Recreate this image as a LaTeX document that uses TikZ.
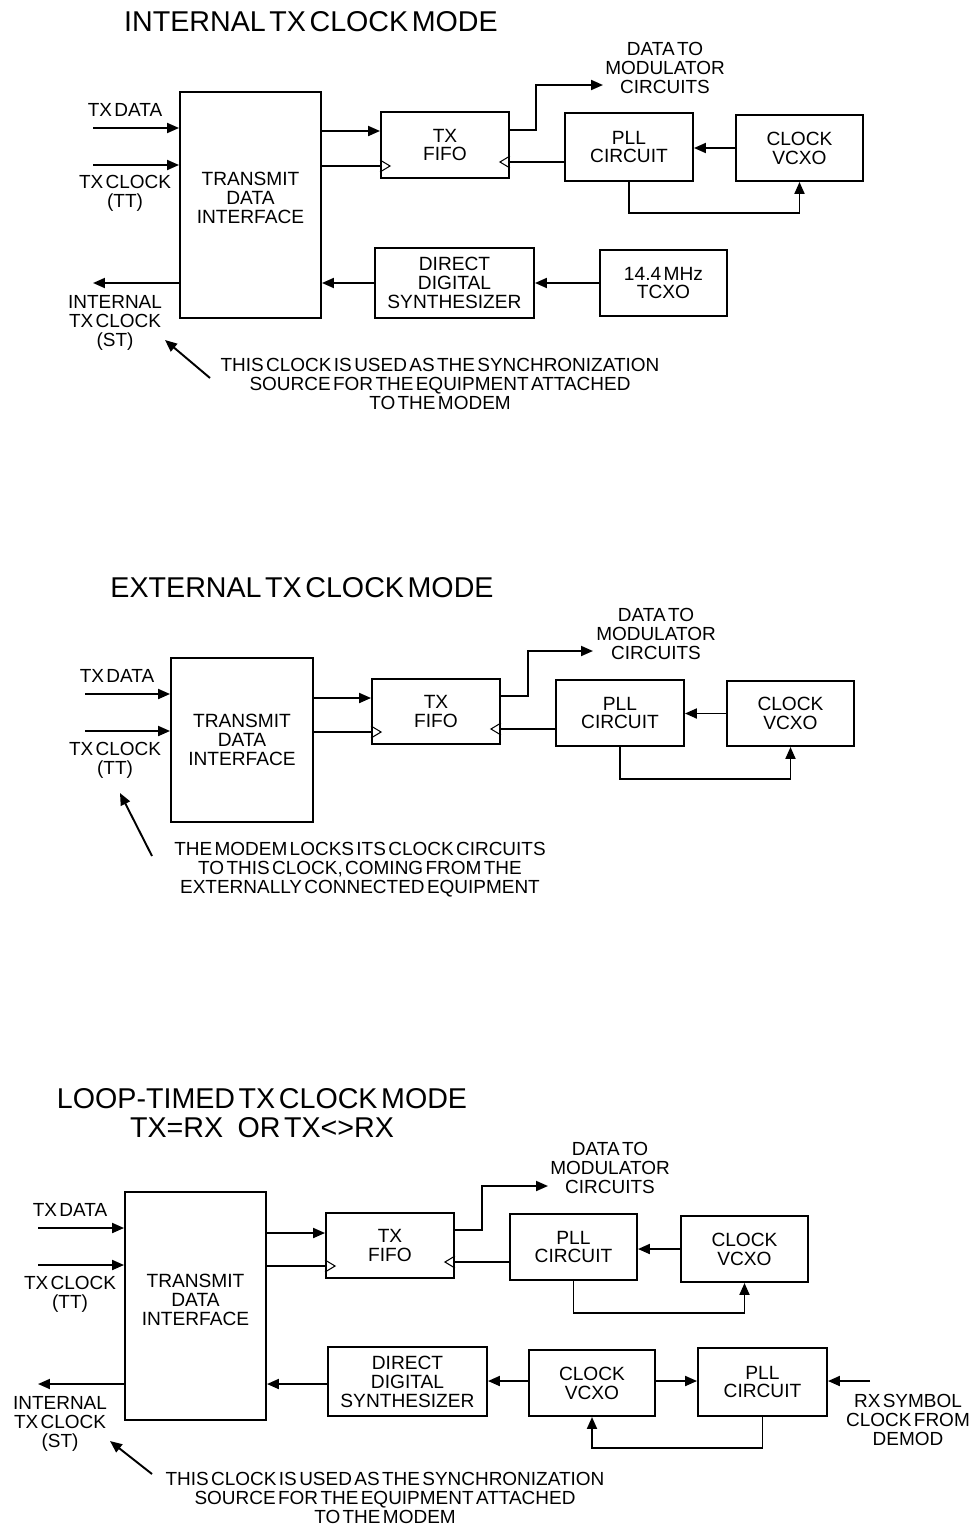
\documentclass[tikz,border=0pt]{standalone}
\usepackage{fontspec}
\setmainfont{Liberation Sans}[WordSpace=0.45]
\usetikzlibrary{arrows.meta}

\newcommand{\ttlfnt}{\fontsize{16.3}{16.5}\selectfont}
\newcommand{\boxfnt}{\fontsize{10.9}{10.8}\selectfont}
\newcommand{\lblfnt}{\fontsize{10.8}{10.9}\selectfont}

\tikzset{
    blk/.style={draw, line width=1.1pt, align=center, font=\boxfnt, inner sep=0pt},
    lbl/.style={align=center, font=\lblfnt, inner sep=0pt},
    ttl/.style={align=center, font=\ttlfnt, inner sep=0pt},
    arr/.style={line width=1.1pt, -{Triangle[length=0.24cm, width=0.2cm]}},
    wire/.style={line width=1.1pt},
    clk/.style={line width=0.6pt},
}

\begin{document}
\begin{tikzpicture}[x=0.02cm, y=-0.02cm]
    \useasboundingbox (0,0) rectangle (976,1528);

    %%%%%%%%%%%%%%%% INTERNAL TX CLOCK MODE %%%%%%%%%%%%%%%%
    \node[ttl] (title1) at (311,22) {INTERNAL TX CLOCK MODE};

    % Blocks
    \node[blk, minimum width=2.82cm, minimum height=4.52cm] (tdi1) at (250.5,205) {TRANSMIT\\DATA\\INTERFACE\\[-0.1cm]};
    \node[blk, minimum width=2.56cm, minimum height=1.32cm] (fifo1) at (445,145) {TX\\FIFO};
    \node[blk, minimum width=2.56cm, minimum height=1.36cm] (pll1) at (629,147) {PLL\\CIRCUIT};
    \node[blk, minimum width=2.54cm, minimum height=1.32cm] (vco1) at (799.5,148) {CLOCK\\VCXO};
    \node[blk, minimum width=3.18cm, minimum height=1.40cm] (dds1) at (454.5,283) {DIRECT\\DIGITAL\\SYNTHESIZER};
    \node[blk, minimum width=2.54cm, minimum height=1.32cm] (tcxo1) at (663.5,283) {14.4 MHz\\TCXO};

    % Interface inputs and output
    \coordinate (txd1) at (93,128);
    \coordinate (txc1) at (93,165);
    \coordinate (st1) at (93,283);
    \draw[arr] (txd1) -- (txd1 -| tdi1.west);
    \draw[arr] (txc1) -- (txc1 -| tdi1.west);
    \draw[arr] (st1 -| tdi1.west) -- (st1);
    \node[lbl] (txdl1) at (125,110) {TX DATA};
    \node[lbl] (txcl1) at (125,193) {TX CLOCK\\(TT)};
    \node[lbl] (stl1) at (115,323) {INTERNAL\\TX CLOCK\\(ST)};

    % FIFO
    \coordinate (f1a) at ([yshift=0.28cm]fifo1.west);
    \coordinate (f1c) at ([yshift=-0.42cm]fifo1.west);
    \coordinate (f1o) at ([yshift=0.30cm]fifo1.east);
    \coordinate (f1d) at ([yshift=-0.34cm]fifo1.east);
    \coordinate (dm1) at (603,85);
    \draw[arr] (f1a -| tdi1.east) -- (f1a);
    \draw[wire] (f1c -| tdi1.east) -- (f1c);
    \draw[clk] (f1c) ++(0,-6) -- ++(10,6) -- ++(-10,6);
    \draw[arr] (f1o) -- ++(26,0) |- (dm1);
    \node[lbl] (dml1) at (665,68) {DATA TO\\MODULATOR\\CIRCUITS};
    \draw[wire] (f1d) -- (f1d -| pll1.west);
    \draw[clk] (f1d) ++(0,-6) -- ++(-10,6) -- ++(10,6);

    % PLL loop
    \draw[arr] (vco1.west) -- (pll1.east |- vco1.west);
    \draw[arr] (pll1.south) -- ++(0,31) -| (vco1.south);

    % Synthesizer chain
    \draw[arr] (tcxo1.west) -- (dds1.east);
    \draw[arr] (dds1.west) -- (dds1.west -| tdi1.east);

    % Note
    \node[lbl] (note1) at (440,384) {THIS CLOCK IS USED AS THE SYNCHRONIZATION\\SOURCE FOR THE EQUIPMENT ATTACHED\\TO THE MODEM};
    \coordinate (n1s) at (210,378);
    \coordinate (n1e) at (165,340);
    \draw[arr] (n1s) -- (n1e);

    %%%%%%%%%%%%%%%% EXTERNAL TX CLOCK MODE %%%%%%%%%%%%%%%%
    \node[ttl] (title2) at (302,588) {EXTERNAL TX CLOCK MODE};

    % Blocks
    \node[blk, minimum width=2.84cm, minimum height=3.28cm] (tdi2) at (242,740) {TRANSMIT\\DATA\\INTERFACE};
    \node[blk, minimum width=2.56cm, minimum height=1.30cm] (fifo2) at (436,711.5) {TX\\FIFO};
    \node[blk, minimum width=2.56cm, minimum height=1.32cm] (pll2) at (620,713) {PLL\\CIRCUIT};
    \node[blk, minimum width=2.54cm, minimum height=1.30cm] (vco2) at (790.5,713.5) {CLOCK\\VCXO};

    % Interface inputs
    \coordinate (txd2) at (85,694);
    \coordinate (txc2) at (85,731);
    \draw[arr] (txd2) -- (txd2 -| tdi2.west);
    \draw[arr] (txc2) -- (txc2 -| tdi2.west);
    \node[lbl] (txdl2) at (117,676) {TX DATA};
    \node[lbl] (txcl2) at (115,760) {TX CLOCK\\(TT)};

    % FIFO
    \coordinate (f2a) at ([yshift=0.27cm]fifo2.west);
    \coordinate (f2c) at ([yshift=-0.41cm]fifo2.west);
    \coordinate (f2o) at ([yshift=0.31cm]fifo2.east);
    \coordinate (f2d) at ([yshift=-0.35cm]fifo2.east);
    \coordinate (dm2) at (593,651);
    \draw[arr] (f2a -| tdi2.east) -- (f2a);
    \draw[wire] (f2c -| tdi2.east) -- (f2c);
    \draw[clk] (f2c) ++(0,-6) -- ++(10,6) -- ++(-10,6);
    \draw[arr] (f2o) -- ++(27,0) |- (dm2);
    \node[lbl] (dml2) at (656,634) {DATA TO\\MODULATOR\\CIRCUITS};
    \draw[wire] (f2d) -- (f2d -| pll2.west);
    \draw[clk] (f2d) ++(0,-6) -- ++(-10,6) -- ++(10,6);

    % PLL loop
    \draw[arr] (vco2.west) -- (pll2.east |- vco2.west);
    \draw[arr] (pll2.south) -- ++(0,32) -| (vco2.south);

    % Note
    \node[lbl] (note2) at (360,870) {THE MODEM LOCKS ITS CLOCK CIRCUITS\\TO THIS CLOCK, COMING FROM THE\\EXTERNALLY CONNECTED EQUIPMENT};
    \coordinate (n2s) at (152,856);
    \coordinate (n2e) at (120,793);
    \draw[arr] (n2s) -- (n2e);

    %%%%%%%%%%%%%%%% LOOP-TIMED TX CLOCK MODE %%%%%%%%%%%%%%%%
    \node[ttl] (title3) at (262,1113) {LOOP-TIMED TX CLOCK MODE\\TX=RX\enspace OR TX<>RX};

    % Blocks
    \node[blk, minimum width=2.82cm, minimum height=4.56cm] (tdi3) at (195.5,1306) {TRANSMIT\\DATA\\INTERFACE\\[-0.12cm]};
    \node[blk, minimum width=2.56cm, minimum height=1.30cm] (fifo3) at (390,1245.5) {TX\\FIFO};
    \node[blk, minimum width=2.54cm, minimum height=1.32cm] (pll3) at (573.5,1247) {PLL\\CIRCUIT};
    \node[blk, minimum width=2.54cm, minimum height=1.32cm] (vco3) at (744.5,1249) {CLOCK\\VCXO};
    \node[blk, minimum width=3.18cm, minimum height=1.38cm] (dds3) at (407.5,1381.5) {DIRECT\\DIGITAL\\SYNTHESIZER};
    \node[blk, minimum width=2.52cm, minimum height=1.32cm] (vco4) at (592,1383) {CLOCK\\VCXO};
    \node[blk, minimum width=2.58cm, minimum height=1.36cm] (pll4) at (762.5,1382) {PLL\\CIRCUIT};

    % Interface inputs and output
    \coordinate (txd3) at (38,1228);
    \coordinate (txc3) at (38,1265);
    \coordinate (st3) at (38,1384);
    \draw[arr] (txd3) -- (txd3 -| tdi3.west);
    \draw[arr] (txc3) -- (txc3 -| tdi3.west);
    \draw[arr] (st3 -| tdi3.west) -- (st3);
    \node[lbl] (txdl3) at (70,1210) {TX DATA};
    \node[lbl] (txcl3) at (70,1294) {TX CLOCK\\(TT)};
    \node[lbl] (stl3) at (60,1424) {INTERNAL\\TX CLOCK\\(ST)};

    % FIFO
    \coordinate (f3a) at ([yshift=0.25cm]fifo3.west);
    \coordinate (f3c) at ([yshift=-0.41cm]fifo3.west);
    \coordinate (f3o) at ([yshift=0.31cm]fifo3.east);
    \coordinate (f3d) at ([yshift=-0.33cm]fifo3.east);
    \coordinate (dm3) at (548,1186);
    \draw[arr] (f3a -| tdi3.east) -- (f3a);
    \draw[wire] (f3c -| tdi3.east) -- (f3c);
    \draw[clk] (f3c) ++(0,-6) -- ++(10,6) -- ++(-10,6);
    \draw[arr] (f3o) -- ++(27,0) |- (dm3);
    \node[lbl] (dml3) at (610,1168) {DATA TO\\MODULATOR\\CIRCUITS};
    \draw[wire] (f3d) -- (f3d -| pll3.west);
    \draw[clk] (f3d) ++(0,-6) -- ++(-10,6) -- ++(10,6);

    % PLL loop
    \draw[arr] (vco3.west) -- (pll3.east |- vco3.west);
    \draw[arr] (pll3.south) -- ++(0,32) -| (vco3.south);

    % Receive clock chain
    \coordinate (rx3) at (870,1381);
    \draw[arr] (rx3) -- (rx3 -| pll4.east);
    \node[lbl] (rxl3) at (908,1420) {RX SYMBOL\\CLOCK FROM\\DEMOD};
    \draw[arr] (vco4.east |- rx3) -- (pll4.west |- rx3);
    \draw[arr] (pll4.south) -- ++(0,31) -| (vco4.south);
    \draw[arr] (vco4.west |- rx3) -- (dds3.east |- rx3);
    \draw[arr] (dds3.west |- st3) -- (st3 -| tdi3.east);

    % Note
    \node[lbl] (note3) at (385,1498) {THIS CLOCK IS USED AS THE SYNCHRONIZATION\\SOURCE FOR THE EQUIPMENT ATTACHED\\TO THE MODEM};
    \coordinate (n3s) at (152,1474);
    \coordinate (n3e) at (110,1441);
    \draw[arr] (n3s) -- (n3e);
\end{tikzpicture}
\end{document}
